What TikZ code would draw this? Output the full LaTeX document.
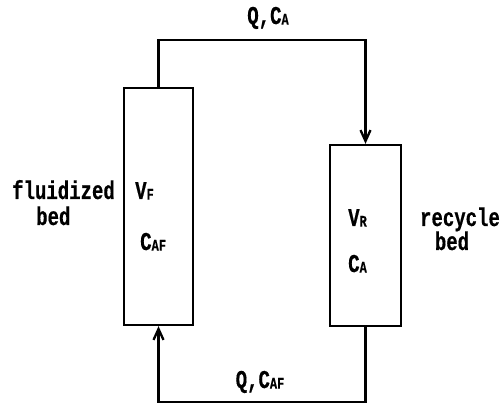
\documentclass[tikz,border=0pt]{standalone}
\usepackage{fontspec}
\usetikzlibrary{arrows.meta, positioning}
\newfontfamily\labelfont{Liberation Mono Bold}[FakeBold=0.6]
\newcommand{\lowsub}[1]{{\fontsize{12}{12}\selectfont\raisebox{-0.5pt}{#1}}}
\newcommand{\tall}[1]{\scalebox{1}[1.35]{#1}}

\begin{document}
\begin{tikzpicture}[x=1pt, y=1pt,
    bedbox/.style={draw, line width=2.3pt, inner sep=0pt},
    flow/.style={line width=2.3pt, -{Straight Barb[length=11pt, width=10pt]}},
    lbl/.style={font=\labelfont\fontsize{19}{19}\selectfont, inner sep=0pt}]
    \useasboundingbox (0,0) rectangle (504,405);

    % Beds
    \node[bedbox, minimum width=69pt, minimum height=237pt] (fbed) at (158.5,198.5) {};
    \node[bedbox, minimum width=71pt, minimum height=181pt] (rbed) at (365.5,169.5) {};

    % Recycle loop
    \draw[flow] (fbed.north) -- ++(0,47) -| (rbed.north);
    \draw[flow] (rbed.south) -- ++(0,-75) -| (fbed.south);

    % Stream labels
    \node[lbl, anchor=base] (qtop) at (268,381) {\tall{Q,C\lowsub{A}}};
    \node[lbl, anchor=base] (qbot) at (260,17) {\tall{Q,C\lowsub{AF}}};

    % Bed contents
    \node[lbl, anchor=base west] (vf) at (135,206) {\tall{V\lowsub{F}}};
    \node[lbl, anchor=base west] (caf) at (140,155) {\tall{C\lowsub{AF}}};
    \node[lbl, anchor=base west] (vr) at (348,179) {\tall{V\lowsub{R}}};
    \node[lbl, anchor=base west] (ca) at (348,133) {\tall{C\lowsub{A}}};

    % Bed names
    \node[lbl, anchor=base west] (fname) at (12,206) {\tall{fluidized}};
    \node[lbl, anchor=base west] (fbedname) at (36,180) {\tall{bed}};
    \node[lbl, anchor=base] (rname) at (460,179) {\tall{recycle}};
    \node[lbl, anchor=base] (rbedname) at (452,155) {\tall{bed}};
\end{tikzpicture}
\end{document}
